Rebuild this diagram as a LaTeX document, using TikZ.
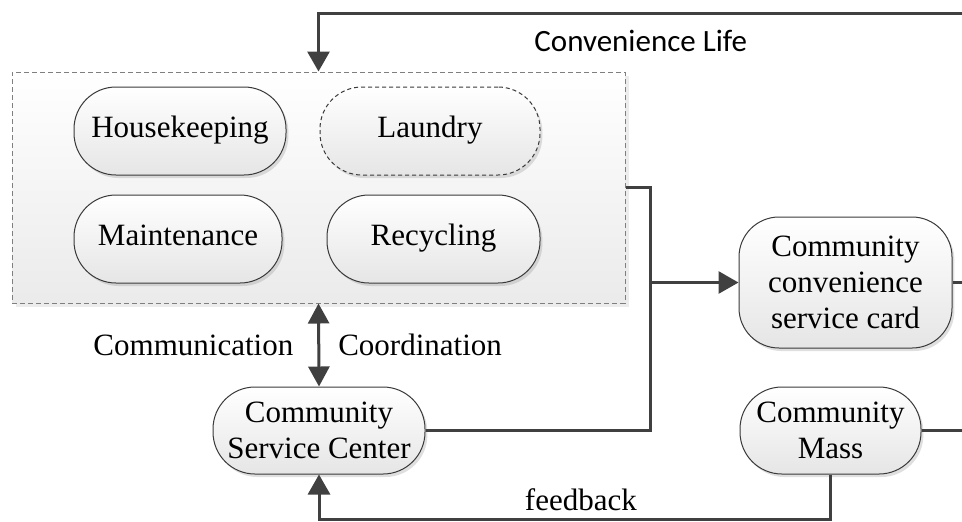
\documentclass[tikz,border=0pt]{standalone}
\usepackage{fontspec}
\setmainfont{Liberation Serif}
\newfontfamily\carlitofont{Carlito}
\usetikzlibrary{arrows.meta,shadows,calc}
\definecolor{linedark}{HTML}{404040}
\definecolor{nodeedge}{HTML}{3A3A3A}
\definecolor{boxedge}{HTML}{7F7F7F}
\begin{document}
\begin{tikzpicture}[x=0.5pt,y=-0.5pt,
  conn/.style={draw=linedark,line width=1.5pt},
  arr/.style={-{Triangle[length=10pt,width=11pt]}},
  biarr/.style={{Triangle[length=10pt,width=10.5pt]}-{Triangle[length=10pt,width=10.5pt]}},
  txt/.style={font=\fontsize{15.5}{18}\selectfont},
  proc/.style={txt,draw=nodeedge,line width=0.5pt,rounded corners=21pt,
    top color=white,bottom color=black!10,align=center,inner sep=0pt,
    drop shadow={shadow xshift=1.2pt,shadow yshift=-1.5pt,opacity=0.25}},
  one/.style={text height=0.86em,text depth=0.2em},
  group/.style={draw=boxedge,line width=0.5pt,dash pattern=on 2.5pt off 1.5pt,
    top color=white,bottom color=black!8,inner sep=0pt,
    drop shadow={shadow xshift=2pt,shadow yshift=-2pt,opacity=0.15}},
  lbl/.style={txt,inner sep=0pt}
]
\useasboundingbox (0,0) rectangle (962,521);
% group box
\node[group,minimum width=306.5pt,minimum height=115.5pt] (grp) at (318.5,187.5) {};
% inner nodes
\node[proc,one,minimum width=106pt,minimum height=44pt] (hk) at (180,131) {Housekeeping};
\node[proc,one,dash pattern=on 2pt off 1.5pt,minimum width=110pt,minimum height=44pt] (ld) at (430,131) {Laundry};
\node[proc,one,minimum width=104pt,minimum height=44pt] (mt) at (178,239) {Maintenance};
\node[proc,one,minimum width=106.5pt,minimum height=44pt] (rc) at (433.5,239) {Recycling};
% other nodes
\node[proc,minimum width=106pt,minimum height=43.5pt] (csc) at (319,430.5) {Community\\Service Center};
\node[proc,rounded corners=20pt,minimum width=106.5pt,minimum height=65.5pt] (card) at (845.5,282.5) {Community\\convenience\\service card};
\node[proc,minimum width=90.5pt,minimum height=43.5pt] (cm) at (830.5,430.5) {Community\\Mass};
% coordinates
\coordinate (rim) at (963,0);
\coordinate (top) at (318.5,13);
\coordinate (bus) at (650,282.5);
\coordinate (fb) at (830.5,519);
% connectors
\draw[conn,arr] (rim |- top) -- (top)
  node[lbl,pos=0.5,below=8pt,font=\carlitofont\fontsize{15.5}{18}\selectfont]{Convenience Life}
  -- (grp.north);
\draw[conn,biarr] (grp.south) -- (csc.north)
  node[lbl,midway,left=12pt]{Communication}
  node[lbl,midway,right=9pt]{Coordination};
\draw[conn] (grp.east) -| (bus) |- (csc.east);
\draw[conn,arr] (bus) -- (card.west);
\draw[conn] (card.east) -- (card.east -| rim);
\draw[conn] (cm.east) -- (cm.east -| rim);
\draw[conn,arr] (cm.south) -- (fb) -- (fb -| csc.south)
  node[lbl,pos=0.488,above=3.5pt]{feedback}
  -- (csc.south);
\end{tikzpicture}
\end{document}
